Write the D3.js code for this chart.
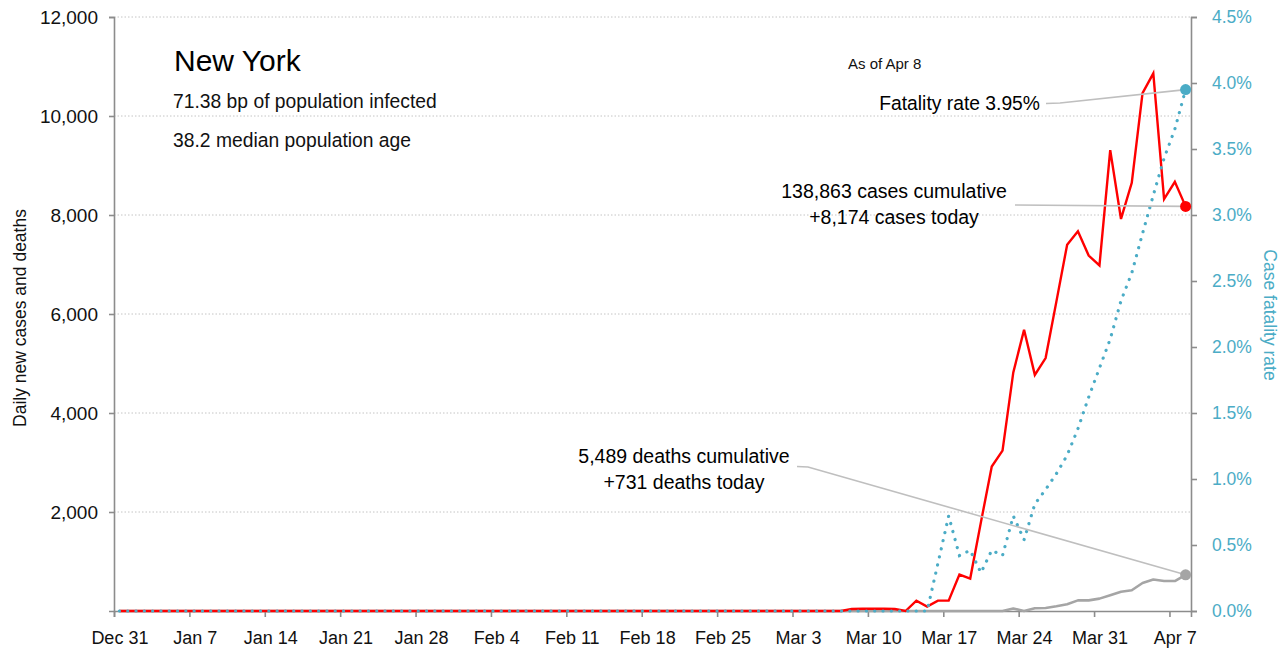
<!DOCTYPE html>
<html>
<head>
<meta charset="utf-8">
<script src="https://cdn.jsdelivr.net/npm/d3@7"></script>
<style>
  html, body { margin: 0; padding: 0; background: #fff; }
  svg text { font-family: "Liberation Sans", Arial, sans-serif; }
</style>
</head>
<body>
<svg id="chart" width="1288" height="651"></svg>
<script>
// ---------------- data ----------------
const startDate = "2019-12-31";            // first day on the x axis
const endDomain = "2020-04-09";            // right edge of plot
// daily new cases, Dec 31 .. Apr 8
const casesDaily = [
  0,0,0,0,0,0,0,0,0,0,0,0,0,0,0,0,0,0,0,0,
  0,0,0,0,0,0,0,0,0,0,0,0,0,0,0,0,0,0,0,0,
  0,0,0,0,0,0,0,0,0,0,0,0,0,0,0,0,0,0,0,0,
  0,0,0,0,0,0,0,0,
  40,45,45,45,40,0,210,90,210,210,735,655,1800,2920,3240,4820,5680,4770,5110,6250,7400,7670,7180,6980,
  9310,7920,8650,10460,10860,8320,8670,8174
];
// daily new deaths, Dec 31 .. Apr 8
const deathsDaily = [
  0,0,0,0,0,0,0,0,0,0,0,0,0,0,0,0,0,0,0,0,
  0,0,0,0,0,0,0,0,0,0,0,0,0,0,0,0,0,0,0,0,
  0,0,0,0,0,0,0,0,0,0,0,0,0,0,0,0,0,0,0,0,
  0,0,0,0,0,0,0,0,0,0,0,0,0,0,0,0,0,0,0,0,
  0,0,0,
  50,0,55,60,95,135,215,215,250,
  320,390,420,565,635,605,605,731
];
// case fatality rate (%), Dec 31 .. Apr 8
const fatalityRate = [
  0,0,0,0,0,0,0,0,0,0,0,0,0,0,0,0,0,0,0,0,
  0,0,0,0,0,0,0,0,0,0,0,0,0,0,0,0,0,0,0,0,
  0,0,0,0,0,0,0,0,0,0,0,0,0,0,0,0,0,0,0,0,
  0,0,0,0,0,0,0,0,0,0,0,0,0,0,0,0,
  0.36,0.72,0.42,0.46,0.29,0.46,0.42,0.72,0.54,0.81,0.92,1.04,1.18,1.38,1.62,1.84,
  2.06,2.35,2.56,2.86,3.15,3.43,3.65,3.95
];
const leftTicks = [2000, 4000, 6000, 8000, 10000, 12000];
const rightTicks = [0, 0.5, 1.0, 1.5, 2.0, 2.5, 3.0, 3.5, 4.0, 4.5];
const xTickLabels = ["Dec 31","Jan 7","Jan 14","Jan 21","Jan 28","Feb 4","Feb 11","Feb 18","Feb 25","Mar 3","Mar 10","Mar 17","Mar 24","Mar 31","Apr 7"];

const title = "New York";
const subLines = ["71.38 bp of population infected", "38.2 median population age"];
const asOf = "As of Apr 8";
const fatalityNote = "Fatality rate 3.95%";
const casesNote = ["138,863 cases cumulative", "+8,174 cases today"];
const deathsNote = ["5,489 deaths cumulative", "+731 deaths today"];

// ---------------- chart ----------------
const svg = d3.select("#chart");
const M = { left: 114, right: 1191, top: 17, bottom: 611 };
const C = { red: "#ff0000", blue: "#4bacc6", gray: "#a5a5a5", axis: "#8c8c8c", grid: "#c4c4c4", lead: "#bfbfbf", text: "#111" };
const FONT = "'Liberation Sans', Arial, sans-serif";

const parse = d3.utcParse("%Y-%m-%d");
const d0 = parse(startDate);
const dates = casesDaily.map((_, i) => d3.utcDay.offset(d0, i));
const mid = d => d3.utcHour.offset(d, 12);

const x = d3.scaleUtc().domain([d0, parse(endDomain)]).range([M.left, M.right]);
const yL = d3.scaleLinear().domain([0, 12000]).range([M.bottom, M.top]);
const yR = d3.scaleLinear().domain([0, 4.5]).range([M.bottom, M.top]);

// gridlines
svg.append("g").selectAll("line").data(leftTicks).join("line")
  .attr("x1", M.left).attr("x2", M.right)
  .attr("y1", d => yL(d)).attr("y2", d => yL(d))
  .attr("stroke", C.grid).attr("stroke-width", 1).attr("stroke-dasharray", "1.5,2");

// left axis
const gL = svg.append("g").attr("transform", `translate(${M.left},0)`)
  .call(d3.axisLeft(yL).tickValues(leftTicks).tickFormat(d3.format(",")).tickSize(5).tickPadding(11));
gL.select(".domain").attr("stroke", C.axis).attr("stroke-width", 1.6);
gL.selectAll(".tick line").attr("stroke", C.axis).attr("stroke-width", 1.6);
gL.selectAll(".tick text").attr("font-size", 19).attr("fill", C.text).attr("font-family", FONT);

// right axis
const gR = svg.append("g").attr("transform", `translate(${M.right},0)`)
  .call(d3.axisRight(yR).tickValues(rightTicks).tickFormat(d => d3.format(".1f")(d) + "%").tickSize(6).tickPadding(15));
gR.select(".domain").attr("stroke", C.axis).attr("stroke-width", 1.6);
gR.selectAll(".tick line").attr("stroke", C.axis).attr("stroke-width", 1.6);
gR.selectAll(".tick text").attr("font-size", 17.5).attr("fill", C.blue).attr("font-family", FONT);

// x axis
const xTickDates = xTickLabels.map((_, i) => d3.utcDay.offset(d0, i * 7));
const gX = svg.append("g").attr("transform", `translate(0,${M.bottom})`)
  .call(d3.axisBottom(x).tickValues(xTickDates).tickFormat((d, i) => xTickLabels[i]).tickSize(6).tickPadding(14));
gX.select(".domain").attr("stroke", C.axis).attr("stroke-width", 1.6);
gX.selectAll(".tick line").attr("stroke", C.axis).attr("stroke-width", 1.6);
gX.selectAll(".tick text").attr("font-size", 18).attr("fill", C.text).attr("font-family", FONT)
  .attr("dx", x(mid(d0)) - x(d0));

// axis titles
svg.append("text").attr("transform", `translate(26,${(M.top + M.bottom) / 2 + 4}) rotate(-90)`)
  .attr("text-anchor", "middle").attr("font-size", 17.5).attr("fill", C.text)
  .text("Daily new cases and deaths");
svg.append("text").attr("transform", `translate(1264,${(M.top + M.bottom) / 2 + 1}) rotate(90)`)
  .attr("text-anchor", "middle").attr("font-size", 17.5).attr("fill", C.blue)
  .text("Case fatality rate");

// series
const lineL = d3.line().x((d, i) => x(mid(dates[i]))).y(d => yL(d));
const lineR = d3.line().x((d, i) => x(mid(dates[i]))).y(d => yR(d));

svg.append("path").datum(deathsDaily).attr("d", lineL)
  .attr("fill", "none").attr("stroke", C.gray).attr("stroke-width", 2.6).attr("stroke-linejoin", "round");
svg.append("path").datum(casesDaily).attr("d", lineL)
  .attr("fill", "none").attr("stroke", C.red).attr("stroke-width", 2.4).attr("stroke-linejoin", "miter");
svg.append("path").datum(fatalityRate).attr("d", lineR)
  .attr("fill", "none").attr("stroke", C.blue).attr("stroke-width", 3.2)
  .attr("stroke-linecap", "round").attr("stroke-dasharray", "0.1,8.2");

// annotations
const last = dates.length - 1;
const ex = x(mid(dates[last]));
const eyRate = yR(fatalityRate[last]);
const eyCases = yL(casesDaily[last]);
const eyDeaths = yL(deathsDaily[last]);

const lead = pts => svg.append("polyline").attr("points", pts.map(p => p.join(",")).join(" "))
  .attr("fill", "none").attr("stroke", C.lead).attr("stroke-width", 1.6);
lead([[1046, 103.5], [1060, 103], [ex, eyRate]]);
lead([[1015, 205], [ex, eyCases]]);
lead([[797, 466.5], [808, 467], [ex, eyDeaths]]);

svg.append("circle").attr("cx", ex).attr("cy", eyRate).attr("r", 5.5).attr("fill", C.blue);
svg.append("circle").attr("cx", ex).attr("cy", eyCases).attr("r", 5.5).attr("fill", C.red);
svg.append("circle").attr("cx", ex).attr("cy", eyDeaths).attr("r", 5.5).attr("fill", C.gray);

// text blocks
svg.append("text").attr("x", 174).attr("y", 71).attr("font-size", 30).attr("fill", "#000").text(title);
svg.append("text").attr("x", 173).attr("y", 108).attr("font-size", 19.3).attr("fill", C.text).text(subLines[0]);
svg.append("text").attr("x", 173).attr("y", 147).attr("font-size", 19.3).attr("fill", C.text).text(subLines[1]);
svg.append("text").attr("x", 848).attr("y", 69).attr("font-size", 15).attr("fill", C.text).text(asOf);

svg.append("text").attr("x", 1040).attr("y", 110).attr("text-anchor", "end").attr("font-size", 19.3).attr("fill", "#000").text(fatalityNote);
svg.append("text").attr("x", 894).attr("y", 198).attr("text-anchor", "middle").attr("font-size", 19.5).attr("fill", "#000").text(casesNote[0]);
svg.append("text").attr("x", 894).attr("y", 224).attr("text-anchor", "middle").attr("font-size", 19.5).attr("fill", "#000").text(casesNote[1]);
svg.append("text").attr("x", 684).attr("y", 463).attr("text-anchor", "middle").attr("font-size", 19.5).attr("fill", "#000").text(deathsNote[0]);
svg.append("text").attr("x", 684).attr("y", 489).attr("text-anchor", "middle").attr("font-size", 19.5).attr("fill", "#000").text(deathsNote[1]);
</script>
</body>
</html>
